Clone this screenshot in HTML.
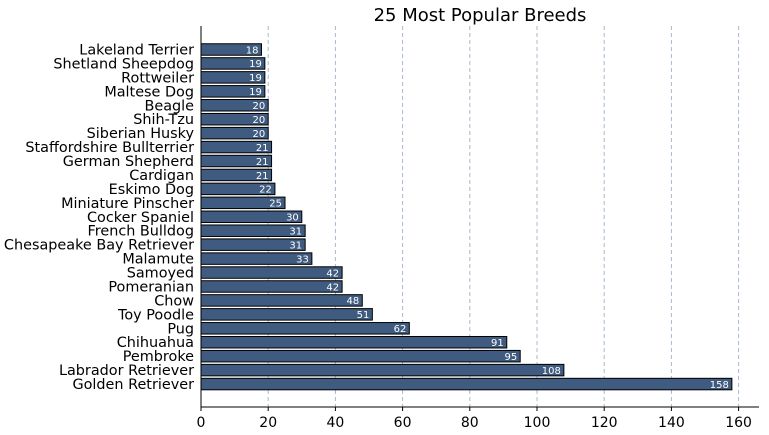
<!DOCTYPE html>
<html><head><meta charset="utf-8"><style>
html,body{margin:0;padding:0;background:#fff;}
svg{display:block;font-family:"DejaVu Sans","Liberation Sans",sans-serif;}
</style></head><body>
<svg id="chart" width="769" height="435">
<text x="480" y="21" text-anchor="middle" font-size="18">25 Most Popular Breeds</text>
<g id="grid"></g><g id="bars"></g><g id="axes"></g>
</svg>
<script>
const categories=["Lakeland Terrier","Shetland Sheepdog","Rottweiler","Maltese Dog","Beagle","Shih-Tzu","Siberian Husky","Staffordshire Bullterrier","German Shepherd","Cardigan","Eskimo Dog","Miniature Pinscher","Cocker Spaniel","French Bulldog","Chesapeake Bay Retriever","Malamute","Samoyed","Pomeranian","Chow","Toy Poodle","Pug","Chihuahua","Pembroke","Labrador Retriever","Golden Retriever"];
const values=[18,19,19,19,20,20,20,21,21,21,22,25,30,31,31,33,42,42,48,51,62,91,95,108,158];
const xTicks=[0,20,40,60,80,100,120,140,160];
const NS="http://www.w3.org/2000/svg";
const plotX0=201,xScale=3.36,rowY0=49.5,rowStep=13.94,barH=11.5,plotBottom=407,plotTop=26;
const xs=v=>plotX0+v*xScale, ys=i=>rowY0+i*rowStep;
function mk(p,tag,a){const e=document.createElementNS(NS,tag);for(const k in a)e.setAttribute(k,a[k]);p.appendChild(e);return e;}
const gGrid=document.getElementById('grid'),gBars=document.getElementById('bars'),gAxes=document.getElementById('axes');
xTicks.forEach(t=>{
 if(t>0){const l=mk(gGrid,'line',{x1:xs(t),x2:xs(t),y1:plotTop,y2:plotBottom,stroke:'#a8b8cc','stroke-dasharray':'4,3','stroke-width':1});
 
 }
 const tk=mk(gAxes,'line',{x1:xs(t),x2:xs(t),y1:plotBottom,y2:plotBottom+4,stroke:'#000'});
 
 
 const tx=mk(gAxes,'text',{x:xs(t),y:427,'text-anchor':'middle','font-size':14});tx.textContent=t;
 
 
});
categories.forEach((c,i)=>{
 const y=ys(i);
 const r=mk(gBars,'rect',{x:plotX0,y:y-barH/2,width:xs(values[i])-plotX0,height:barH,fill:'#3f5b7f',stroke:'#000','stroke-width':1});
 
 
 const v=mk(gBars,'text',{x:xs(values[i])-3,y:y+3.8,'text-anchor':'end','font-size':10,fill:'#fff'});v.textContent=values[i];
 
 
 const l=mk(gAxes,'text',{x:194,y:y+5,'text-anchor':'end','font-size':14.4});l.textContent=c;
 
 
});
const ya=mk(gAxes,'line',{x1:plotX0,x2:plotX0,y1:plotTop,y2:plotBottom,stroke:'#000'});


const xa=mk(gAxes,'line',{x1:plotX0,x2:759,y1:plotBottom,y2:plotBottom,stroke:'#000'});


</script>
</body></html>
